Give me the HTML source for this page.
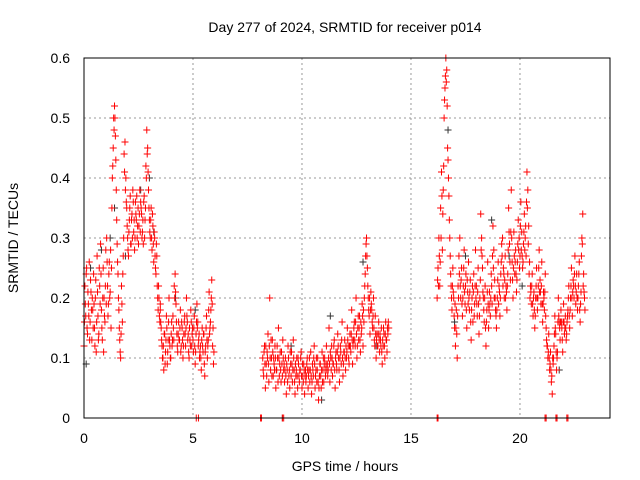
<!DOCTYPE html>
<html><head><meta charset="utf-8"><style>
body{margin:0;background:#fff;width:640px;height:480px;overflow:hidden}
svg{display:block;font-family:"Liberation Sans",sans-serif}
</style></head><body>
<svg id="chart" width="640" height="480" viewBox="0 0 640 480">
<rect width="640" height="480" fill="#fff"/>
<g id="grid"></g>
<g id="marks"></g>
<rect x="84" y="58" width="526" height="360" fill="none" stroke="#000" stroke-width="1"/>
<g id="ticks" font-size="14" fill="#000"></g>
<text x="345" y="32" text-anchor="middle" font-size="14">Day 277 of 2024, SRMTID for receiver p014</text>
<text x="345" y="471" text-anchor="middle" font-size="14">GPS time / hours</text>
<text x="18" y="238" text-anchor="middle" font-size="14" transform="rotate(-90 18 238)">SRMTID / TECUs</text>
</svg>
<script>
const xTicks=[0,5,10,15,20];
const yTicks=[0,0.1,0.2,0.3,0.4,0.5,0.6];
const yTickLabels=["0","0.1","0.2","0.3","0.4","0.5","0.6"];
const segStarts=[0,3.5,8.2,16.2];
const seg2Starts=[0.02,3.52,8.22,16.22];
const segStep=0.04;
const segA=[0.12,0.22,0.17,0.25,0.14,0.19,0.26,0.16,0.21,0.13,0.18,0.24,0.15,0.2,0.11,0.27,0.17,0.14,0.22,0.29,0.18,0.13,0.25,0.2,0.16,0.28,0.3,0.22,0.19,0.26,0.21,0.15,0.35,0.42,0.5,0.52,0.47,0.38,0.29,0.24,0.18,0.13,0.1,0.22,0.16,0.27,0.44,0.46,0.4,0.35,0.3,0.27,0.33,0.37,0.29,0.34,0.38,0.31,0.28,0.36,0.33,0.3,0.35,0.32,0.38,0.36,0.34,0.31,0.29,0.37,0.33,0.42,0.48,0.45,0.38,0.33,0.3,0.35,0.28,0.32,0.26,0.3,0.25,0.29,0.22,0.18,0.2,0.16];
const segB=[0.18,0.15,0.12,0.1,0.08,0.14,0.11,0.17,0.09,0.13,0.2,0.12,0.1,0.16,0.13,0.15,0.22,0.24,0.19,0.14,0.11,0.16,0.13,0.18,0.12,0.15,0.1,0.14,0.17,0.12,0.2,0.16,0.14,0.1,0.13,0.18,0.12,0.15,0.11,0.17,0.09,0.14,0.19,0.16,0.13,0.1,0.12,0.08,0.15,0.11,0.14,0.07,0.12,0.17,0.1,0.13,0.21,0.15,0.18,0.23,0.12,0.09];
const segC=[0.1,0.07,0.12,0.05,0.09,0.11,0.14,0.06,0.2,0.08,0.1,0.13,0.07,0.09,0.12,0.05,0.08,0.1,0.15,0.07,0.11,0.06,0.09,0.13,0.08,0.06,0.1,0.04,0.08,0.12,0.07,0.05,0.09,0.11,0.06,0.13,0.08,0.04,0.07,0.1,0.05,0.09,0.06,0.08,0.11,0.05,0.07,0.09,0.04,0.08,0.07,0.1,0.05,0.08,0.06,0.11,0.04,0.09,0.07,0.12,0.05,0.08,0.06,0.1,0.03,0.07,0.09,0.05,0.11,0.08,0.06,0.1,0.07,0.12,0.09,0.08,0.15,0.06,0.1,0.12,0.07,0.09,0.13,0.05,0.11,0.08,0.14,0.1,0.06,0.12,0.09,0.16,0.07,0.11,0.13,0.08,0.1,0.15,0.12,0.09,0.14,0.11,0.18,0.09,0.13,0.16,0.12,0.2,0.1,0.15,0.13,0.17,0.11,0.14,0.19,0.12,0.16,0.22,0.27,0.3,0.25,0.2,0.17,0.14,0.21,0.18,0.15,0.2,0.13,0.17,0.1,0.14,0.12,0.16,0.11,0.13,0.15,0.09,0.12,0.14,0.1,0.16,0.13,0.15,0.16];
const segD=[0.2,0.25,0.3,0.22,0.35,0.41,0.28,0.38,0.5,0.55,0.6,0.58,0.45,0.4,0.33,0.27,0.22,0.18,0.25,0.2,0.15,0.12,0.18,0.1,0.22,0.27,0.3,0.2,0.25,0.17,0.22,0.28,0.19,0.24,0.15,0.21,0.26,0.18,0.23,0.13,0.2,0.16,0.24,0.19,0.28,0.22,0.17,0.25,0.14,0.2,0.34,0.3,0.25,0.2,0.16,0.22,0.12,0.18,0.26,0.15,0.21,0.17,0.24,0.19,0.32,0.28,0.23,0.18,0.15,0.2,0.26,0.22,0.17,0.24,0.29,0.3,0.25,0.2,0.27,0.22,0.18,0.24,0.35,0.29,0.23,0.38,0.26,0.2,0.31,0.24,0.28,0.21,0.26,0.33,0.3,0.27,0.36,0.31,0.25,0.29,0.34,0.3,0.27,0.41,0.38,0.32,0.26,0.22,0.19,0.24,0.17,0.21,0.15,0.2,0.25,0.18,0.22,0.28,0.23,0.19,0.26,0.16,0.21,0.18,0.24,0.15,0.12,0.1,0.14,0.08,0.11,0.06,0.04,0.09,0.12,0.17,0.14,0.08,0.11,0.2,0.16,0.13,0.18,0.15,0.11,0.19,0.14,0.17,0.13,0.16,0.18,0.22,0.15,0.2,0.25,0.17,0.23,0.2,0.27,0.19,0.24,0.18,0.22,0.26,0.16,0.21,0.3,0.34,0.24,0.2];
const segA2=[0.16,0.19,0.24,0.15,0.21,0.17,0.13,0.23,0.18,0.2,0.15,0.19,0.12,0.23,0.16,0.21,0.13,0.25,0.19,0.24,0.15,0.2,0.11,0.17,0.22,0.19,0.26,0.17,0.24,0.2,0.28,0.25,0.4,0.45,0.48,0.5,0.43,0.33,0.26,0.2,0.15,0.11,0.14,0.19,0.24,0.3,0.41,0.38,0.36,0.32,0.28,0.31,0.35,0.29,0.33,0.3,0.36,0.33,0.3,0.34,0.37,0.32,0.29,0.34,0.31,0.35,0.3,0.33,0.36,0.3,0.35,0.4,0.44,0.41,0.35,0.31,0.33,0.3,0.34,0.29,0.31,0.27,0.24,0.27,0.2,0.22,0.17,0.19];
const segB2=[0.16,0.13,0.1,0.12,0.14,0.09,0.13,0.15,0.11,0.16,0.13,0.1,0.14,0.12,0.17,0.13,0.2,0.21,0.16,0.12,0.14,0.13,0.15,0.11,0.16,0.13,0.12,0.16,0.14,0.15,0.17,0.13,0.11,0.15,0.12,0.16,0.14,0.13,0.15,0.12,0.11,0.16,0.15,0.12,0.14,0.11,0.1,0.13,0.12,0.14,0.09,0.11,0.15,0.13,0.12,0.18,0.14,0.16,0.2,0.19,0.15,0.11];
const segC2=[0.08,0.11,0.09,0.12,0.07,0.1,0.09,0.12,0.1,0.13,0.07,0.11,0.1,0.08,0.1,0.08,0.12,0.06,0.1,0.09,0.08,0.11,0.07,0.1,0.09,0.08,0.07,0.09,0.06,0.1,0.08,0.11,0.07,0.09,0.08,0.1,0.06,0.09,0.08,0.07,0.1,0.07,0.08,0.1,0.07,0.09,0.06,0.08,0.07,0.06,0.09,0.08,0.07,0.1,0.08,0.07,0.06,0.08,0.1,0.09,0.07,0.1,0.08,0.06,0.05,0.09,0.07,0.08,0.06,0.1,0.09,0.08,0.09,0.08,0.07,0.1,0.09,0.11,0.08,0.1,0.09,0.12,0.08,0.1,0.09,0.11,0.12,0.08,0.1,0.11,0.13,0.1,0.09,0.11,0.1,0.12,0.11,0.13,0.1,0.12,0.12,0.14,0.13,0.12,0.15,0.13,0.16,0.14,0.12,0.17,0.15,0.13,0.16,0.15,0.17,0.18,0.2,0.24,0.29,0.27,0.22,0.18,0.2,0.18,0.19,0.16,0.17,0.15,0.12,0.14,0.13,0.12,0.14,0.13,0.14,0.12,0.11,0.13,0.15,0.12,0.14,0.13,0.11,0.14,0.15];
const segD2=[0.23,0.22,0.27,0.26,0.3,0.37,0.34,0.42,0.53,0.57,0.56,0.52,0.43,0.37,0.3,0.24,0.2,0.22,0.21,0.17,0.19,0.15,0.14,0.17,0.2,0.24,0.22,0.23,0.19,0.2,0.25,0.21,0.22,0.18,0.23,0.19,0.2,0.21,0.16,0.18,0.22,0.21,0.17,0.22,0.2,0.19,0.21,0.19,0.17,0.23,0.28,0.27,0.21,0.18,0.2,0.15,0.16,0.21,0.19,0.18,0.19,0.2,0.22,0.27,0.25,0.2,0.2,0.17,0.18,0.23,0.19,0.21,0.2,0.26,0.27,0.22,0.24,0.23,0.2,0.21,0.22,0.28,0.31,0.26,0.31,0.3,0.23,0.25,0.27,0.26,0.24,0.23,0.29,0.28,0.25,0.32,0.28,0.27,0.26,0.31,0.28,0.32,0.36,0.35,0.29,0.24,0.2,0.21,0.22,0.19,0.2,0.18,0.17,0.22,0.2,0.2,0.25,0.21,0.21,0.22,0.19,0.19,0.2,0.21,0.17,0.13,0.12,0.11,0.1,0.09,0.08,0.07,0.1,0.1,0.14,0.15,0.11,0.1,0.16,0.17,0.15,0.16,0.16,0.13,0.16,0.16,0.15,0.15,0.14,0.17,0.2,0.17,0.18,0.22,0.2,0.21,0.22,0.24,0.22,0.21,0.2,0.2,0.24,0.18,0.19,0.27,0.29,0.22,0.21,0.18];
const zeroTimes=[5.15,5.25,8.1,8.14,9.1,9.16,16.2,16.24,21.15,21.2,21.65,21.7,22.15,22.2];
const blackTimes=[0.1,0.3,0.8,1.4,1.9,2.6,3.2,4.2,5.1,9.1,9.5,10.9,11.3,12.8,13.4,16.7,17.5,18.7,20.1,21.8,1.2,3.0,17.0,19.5];
const blackValues=[0.09,0.25,0.28,0.35,0.27,0.38,0.31,0.2,0.18,0,0.12,0.03,0.17,0.26,0.12,0.48,0.27,0.33,0.22,0.08,0.3,0.4,0.16,0.27];

const X0=84,X1=610,Y0=418,Y1=58,XMAX=24.13,YMAX=0.6;
const xs=t=>X0+(t/XMAX)*(X1-X0);
const ys=v=>Y0-(v/YMAX)*(Y0-Y1);
const NS="http://www.w3.org/2000/svg";
const grid=document.getElementById('grid'),ticks=document.getElementById('ticks'),marks=document.getElementById('marks');
function mk(tag,attrs,parent){const e=document.createElementNS(NS,tag);for(const k in attrs)e.setAttribute(k,attrs[k]);parent.appendChild(e);return e;}
xTicks.forEach(t=>{
  if(t>0){const l=mk('line',{x1:xs(t),x2:xs(t),y1:Y1,y2:Y0,stroke:'#999','stroke-dasharray':'2,3'},grid);
  
  }
  const tx=mk('text',{x:xs(t),y:443,'text-anchor':'middle'},ticks);tx.textContent=String(t);
  
  
});
yTicks.forEach((v,i)=>{
  if(v>0&&v<YMAX){const l=mk('line',{x1:X0,x2:X1,y1:ys(v),y2:ys(v),stroke:'#999','stroke-dasharray':'2,3'},grid);
  
  }
  const tx=mk('text',{x:70,y:ys(v)+5,'text-anchor':'end'},ticks);tx.textContent=yTickLabels[i];
  
  
});
function plus(t,v,color,name){
  const x=xs(t),y=ys(v);
  const p=mk('path',{d:`M${x-3.5} ${y}H${x+3.5}M${x} ${y-3.5}V${y+3.5}`,stroke:color,'stroke-width':1,fill:'none'},marks);
  
  
}
blackTimes.forEach((t,i)=>plus(t,blackValues[i],'#333','point-black'));
[segA,segB,segC,segD].forEach((seg,si)=>seg.forEach((v,i)=>plus(segStarts[si]+i*segStep,v,'#ff0000','point-red')));
[segA2,segB2,segC2,segD2].forEach((seg,si)=>seg.forEach((v,i)=>plus(seg2Starts[si]+i*segStep,v,'#ff0000','point-red')));
zeroTimes.forEach(t=>plus(t,0,'#ff0000','point-red-zero'));
</script>
</body></html>
